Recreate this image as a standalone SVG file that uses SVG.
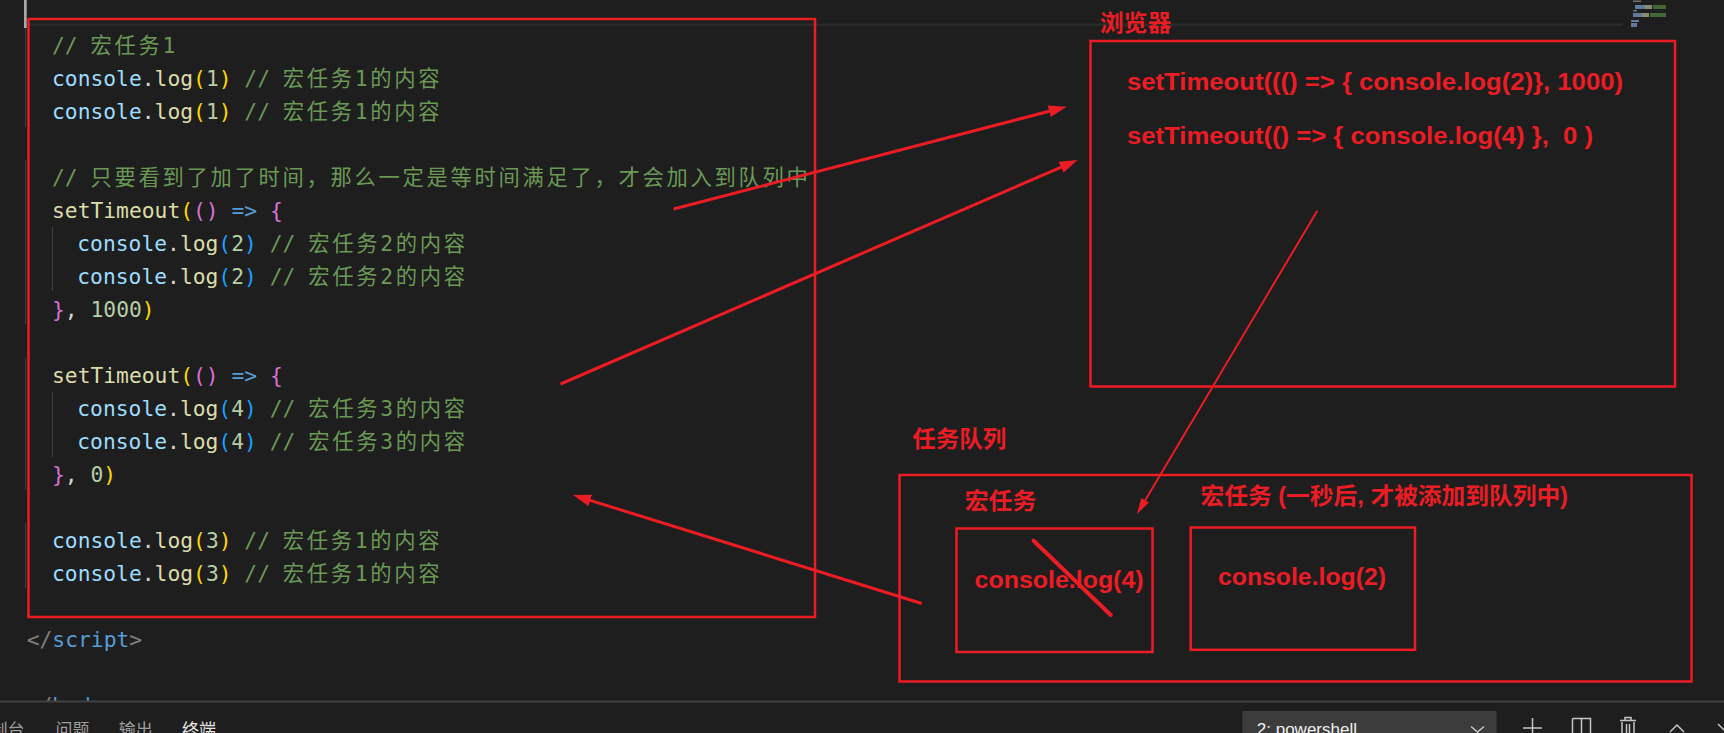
<svg xmlns="http://www.w3.org/2000/svg" width="1724" height="733" viewBox="0 0 1724 733">
<defs>
<style>
.code{font-family:"DejaVu Sans Mono","Noto Sans CJK SC",monospace;font-size:21.3px;white-space:pre;fill:#d4d4d4}
.cm{fill:#6a9955}
.cj{letter-spacing:2.7px}
.var{fill:#9cdcfe}
.fn{fill:#dcdcaa}
.num{fill:#b5cea8}
.b1{fill:#ffd700}
.b2{fill:#da70d6}
.b3{fill:#179fff}
.kw{fill:#569cd6}
.tag{fill:#808080}
.guide{stroke:#404040;stroke-width:1}
.rbox{fill:none;stroke:#ec1c24;stroke-width:2.5}
.rt{font-family:"Liberation Sans","Noto Sans CJK SC",sans-serif;font-weight:700;fill:#ec1c24;white-space:pre}
.conn{stroke:#ec1c24;stroke-width:3;fill:none}
.thin{stroke-width:2}
.ui{font-family:"Noto Sans CJK SC","Liberation Sans",sans-serif;font-size:17px;fill:#9d9d9d}
.icon{stroke:#c5c5c5;stroke-width:1.5;fill:none}
.mm{opacity:0.8}
</style>
<marker id="ah" markerUnits="userSpaceOnUse" markerWidth="18" markerHeight="12" refX="6" refY="6" orient="auto"><path d="M0,0 L18,6 L0,12 Z" fill="#ec1c24"/></marker>
<marker id="ah2" markerUnits="userSpaceOnUse" markerWidth="16" markerHeight="10" refX="6" refY="5" orient="auto"><path d="M0,0.5 L16,5 L0,9.5 Z" fill="#ec1c24"/></marker>
<clipPath id="edclip"><rect x="0" y="0" width="1724" height="701"/></clipPath>
</defs>
<rect x="0" y="0" width="1724" height="733" fill="#1e1e1e"/>

<g id="editor-chrome">
<rect x="28" y="23.5" width="1595" height="2.5" fill="#2a2a2a"/>
<rect x="24" y="0" width="2.7" height="28" fill="#a9a9a9"/>
<line class="guide" x1="25.5" y1="28" x2="25.5" y2="127"/>
<line class="guide" x1="25.5" y1="160" x2="25.5" y2="324"/>
<line class="guide" x1="25.5" y1="358" x2="25.5" y2="489"/>
<line class="guide" x1="25.5" y1="523" x2="25.5" y2="588"/>
<line class="guide" x1="52.5" y1="227" x2="52.5" y2="291"/>
<line class="guide" x1="52.5" y1="392" x2="52.5" y2="457"/>
<g id="minimap" class="mm">
<rect x="1633" y="0.5" width="8" height="1.5" fill="#8a8a8a"/>
<rect x="1635" y="5" width="10" height="4" fill="#6f93b8"/>
<rect x="1645" y="5" width="7" height="4" fill="#a8a88c"/>
<rect x="1653" y="5" width="13" height="4" fill="#4f7a3f"/>
<rect x="1633" y="10" width="4" height="1.5" fill="#8a8a8a"/>
<rect x="1633" y="13" width="9" height="4" fill="#6f93b8"/>
<rect x="1642" y="13" width="7" height="4" fill="#a8a88c"/>
<rect x="1650" y="13" width="16" height="4" fill="#4f7a3f"/>
<rect x="1631" y="20" width="8" height="2" fill="#6f93b8"/>
<rect x="1631" y="23" width="6" height="4" fill="#6f93b8"/>
</g>
</g>

<g id="code" clip-path="url(#edclip)">
<text class="code cm" x="52" y="52.5">// <tspan class="cj">宏任务1</tspan></text>
<text class="code" x="52" y="85.5"><tspan class="var">console</tspan>.<tspan class="fn">log</tspan><tspan class="b1">(</tspan><tspan class="num">1</tspan><tspan class="b1">)</tspan><tspan class="cm"> // <tspan class="cj">宏任务1的内容</tspan></tspan></text>
<text class="code" x="52" y="118.5"><tspan class="var">console</tspan>.<tspan class="fn">log</tspan><tspan class="b1">(</tspan><tspan class="num">1</tspan><tspan class="b1">)</tspan><tspan class="cm"> // <tspan class="cj">宏任务1的内容</tspan></tspan></text>
<text class="code cm" x="52" y="184.5">// <tspan class="cj">只要看到了加了时间，那么一定是等时间满足了，才会加入到队列中</tspan></text>
<text class="code" x="52" y="217.5"><tspan class="fn">setTimeout</tspan><tspan class="b1">(</tspan><tspan class="b2">()</tspan> <tspan class="kw">=&gt;</tspan> <tspan class="b2">{</tspan></text>
<text class="code" x="77.3" y="250.5"><tspan class="var">console</tspan>.<tspan class="fn">log</tspan><tspan class="b3">(</tspan><tspan class="num">2</tspan><tspan class="b3">)</tspan><tspan class="cm"> // <tspan class="cj">宏任务2的内容</tspan></tspan></text>
<text class="code" x="77.3" y="283.5"><tspan class="var">console</tspan>.<tspan class="fn">log</tspan><tspan class="b3">(</tspan><tspan class="num">2</tspan><tspan class="b3">)</tspan><tspan class="cm"> // <tspan class="cj">宏任务2的内容</tspan></tspan></text>
<text class="code" x="52" y="316.5"><tspan class="b2">}</tspan>, <tspan class="num">1000</tspan><tspan class="b1">)</tspan></text>
<text class="code" x="52" y="382.5"><tspan class="fn">setTimeout</tspan><tspan class="b1">(</tspan><tspan class="b2">()</tspan> <tspan class="kw">=&gt;</tspan> <tspan class="b2">{</tspan></text>
<text class="code" x="77.3" y="415.5"><tspan class="var">console</tspan>.<tspan class="fn">log</tspan><tspan class="b3">(</tspan><tspan class="num">4</tspan><tspan class="b3">)</tspan><tspan class="cm"> // <tspan class="cj">宏任务3的内容</tspan></tspan></text>
<text class="code" x="77.3" y="448.5"><tspan class="var">console</tspan>.<tspan class="fn">log</tspan><tspan class="b3">(</tspan><tspan class="num">4</tspan><tspan class="b3">)</tspan><tspan class="cm"> // <tspan class="cj">宏任务3的内容</tspan></tspan></text>
<text class="code" x="52" y="481.5"><tspan class="b2">}</tspan>, <tspan class="num">0</tspan><tspan class="b1">)</tspan></text>
<text class="code" x="52" y="547.5"><tspan class="var">console</tspan>.<tspan class="fn">log</tspan><tspan class="b1">(</tspan><tspan class="num">3</tspan><tspan class="b1">)</tspan><tspan class="cm"> // <tspan class="cj">宏任务1的内容</tspan></tspan></text>
<text class="code" x="52" y="580.5"><tspan class="var">console</tspan>.<tspan class="fn">log</tspan><tspan class="b1">(</tspan><tspan class="num">3</tspan><tspan class="b1">)</tspan><tspan class="cm"> // <tspan class="cj">宏任务1的内容</tspan></tspan></text>
<text class="code" x="26.7" y="646.5"><tspan class="tag">&lt;/</tspan><tspan class="kw">script</tspan><tspan class="tag">&gt;</tspan></text>
<text class="code" x="26.7" y="712.5"><tspan class="tag">&lt;/</tspan><tspan class="kw">body</tspan><tspan class="tag">&gt;</tspan></text>
</g>

<g id="code-block">
<rect class="rbox" x="28.5" y="19" width="786.5" height="598"/>
</g>

<g id="browser">
<text class="rt" x="1099.7" y="31" font-size="23" textLength="71.6" lengthAdjust="spacingAndGlyphs">浏览器</text>
<rect class="rbox" x="1090.5" y="41" width="584.5" height="345.5"/>
<text class="rt" x="1127" y="90" font-size="23" textLength="496" lengthAdjust="spacingAndGlyphs">setTimeout((() =&gt; { console.log(2)}, 1000)</text>
<text class="rt" x="1127" y="144" font-size="23" textLength="466" lengthAdjust="spacingAndGlyphs">setTimeout(() =&gt; { console.log(4) },  0 )</text>
</g>

<g id="task-queue">
<text class="rt" x="912.3" y="447" font-size="23" textLength="94" lengthAdjust="spacingAndGlyphs">任务队列</text>
<rect class="rbox" x="899.5" y="475" width="792" height="206.5"/>
</g>

<g id="macro-task-a">
<text class="rt" x="964.7" y="509" font-size="23" textLength="71.6" lengthAdjust="spacingAndGlyphs">宏任务</text>
<rect class="rbox" x="956.5" y="528.5" width="196" height="123.5"/>
<text class="rt" x="974.6" y="588" font-size="24" textLength="169" lengthAdjust="spacingAndGlyphs">console.log(4)</text>
<line x1="1033.6" y1="540.7" x2="1110.7" y2="615" stroke="#ec1c24" stroke-width="4" stroke-linecap="round"/>
</g>

<g id="macro-task-b">
<text class="rt" x="1200.5" y="504" font-size="23" textLength="367.5" lengthAdjust="spacingAndGlyphs">宏任务 (一秒后, 才被添加到队列中)</text>
<rect class="rbox" x="1190.7" y="527.5" width="224.3" height="122.3"/>
<text class="rt" x="1218" y="585" font-size="24" textLength="168" lengthAdjust="spacingAndGlyphs">console.log(2)</text>
</g>

<g id="connectors">
<line class="conn" x1="673.6" y1="209" x2="1055" y2="109.7" marker-end="url(#ah)"/>
<line class="conn" x1="560.6" y1="384" x2="1066.6" y2="164.8" marker-end="url(#ah)"/>
<line class="conn thin" x1="1317.3" y1="210.7" x2="1142.1" y2="505.4" marker-end="url(#ah2)"/>
<line class="conn" x1="921.7" y1="603.5" x2="584.5" y2="498.6" marker-end="url(#ah)"/>
</g>

<g id="panel">
<line x1="0" y1="701.5" x2="1724" y2="701.5" stroke="#414141" stroke-width="2"/>
<text class="ui" x="-9.5" y="736">制台</text>
<text class="ui" x="55.5" y="736">问题</text>
<text class="ui" x="118.7" y="736">输出</text>
<text class="ui" x="182" y="736" fill="#e7e7e7" style="fill:#e7e7e7">终端</text>
<rect x="1242.4" y="711" width="254.2" height="22" fill="#3c3c3c"/>
<text x="1256.8" y="734.5" font-family="Liberation Sans, sans-serif" font-size="17" fill="#f0f0f0">2: powershell</text>
<path class="icon" d="M1471,726.5 L1477.5,732 L1484,726.5"/>
<path class="icon" d="M1532.5,718 V733 M1523,728 H1542"/>
<path class="icon" d="M1572.5,718.5 H1590.5 V733 M1572.5,718.5 V733 M1581.5,718.5 V733"/>
<path class="icon" d="M1620,720.5 H1636 M1625,720.5 V717.5 H1631 V720.5 M1622,722 V733 M1634,722 V733 M1626.5,724 V733 M1629.5,724 V733"/>
<path class="icon" d="M1670,732 L1677,725 L1684,732"/>
<path class="icon" d="M1718,724 L1727,733"/>
</g>
</svg>
